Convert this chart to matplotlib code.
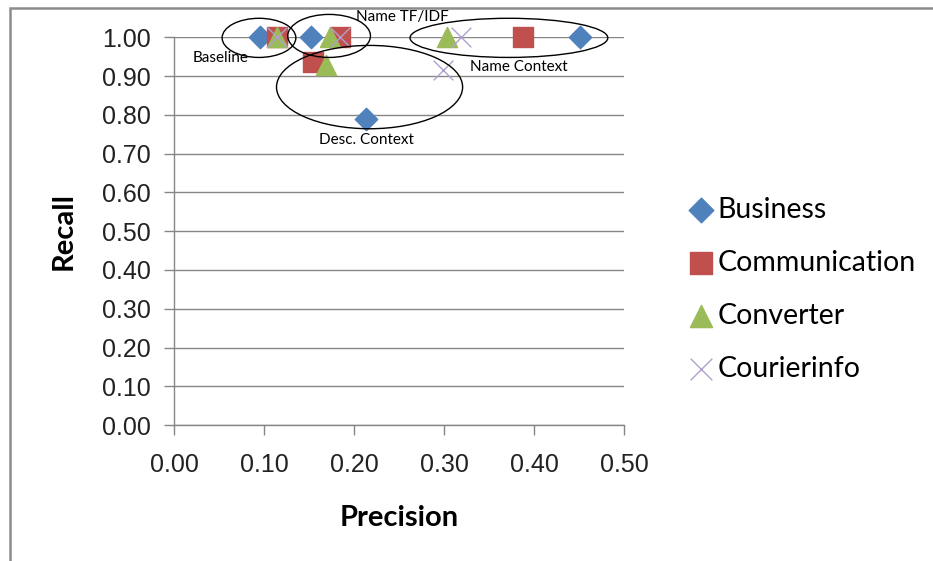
import matplotlib.pyplot as plt
from matplotlib.patches import Ellipse, Rectangle
from matplotlib.ticker import FormatStrFormatter

# ----------------------
# Data (precision, recall)
# ----------------------
business_p = [0.095, 0.152, 0.451, 0.213]
business_r = [1.00, 1.00, 1.00, 0.79]
communication_p = [0.114, 0.184, 0.388, 0.154]
communication_r = [1.00, 1.00, 1.00, 0.937]
converter_p = [0.114, 0.173, 0.303, 0.168]
converter_r = [1.00, 1.00, 1.00, 0.929]
courier_p = [0.114, 0.184, 0.319, 0.299]
courier_r = [1.00, 1.00, 1.00, 0.917]

# groups circled on the chart: label, centre, width, height, label position
groups = ["Baseline", "Name TF/IDF", "Name Context", "Desc. Context"]
group_centres = [(0.094, 0.999), (0.172, 1.004), (0.372, 0.999), (0.217, 0.872)]
group_sizes = [(0.082, 0.101), (0.092, 0.111), (0.220, 0.101), (0.207, 0.215)]
group_labels_at = [(0.051, 0.946), (0.254, 1.052), (0.383, 0.925), (0.213, 0.736)]

# ----------------------
# Figure
# ----------------------
fig = plt.figure(figsize=(9.33, 5.61), dpi=100)
ax = fig.add_axes([0.187, 0.2424, 0.4818, 0.6908])

# chart area border (left and top edge visible)
fig.patches.append(Rectangle((9.5 / 933, -0.05), 1.2, 1.05 - 8.5 / 561,
                             transform=fig.transFigure, fill=False,
                             edgecolor="#8c8c8c", linewidth=1.8))

ax.scatter(business_p, business_r, marker="D", s=130, color="#4F81BD",
           label="Business", zorder=3, clip_on=False)
ax.scatter(communication_p, communication_r, marker="s", s=200, color="#C0504D",
           label="Communication", zorder=3, clip_on=False)
ax.scatter(converter_p, converter_r, marker="^", s=210, color="#9BBB59",
           label="Converter", zorder=3, clip_on=False)
ax.scatter(courier_p, courier_r, marker="x", s=200, color="#B0A0CC",
           linewidths=1.0, label="Courierinfo", zorder=4, clip_on=False)

for name, c, sz, pos in zip(groups, group_centres, group_sizes, group_labels_at):
    ax.add_patch(Ellipse(c, sz[0], sz[1], fill=False, edgecolor="black",
                         linewidth=1.0, clip_on=False, zorder=5))
    ax.text(pos[0], pos[1], name, ha="center", va="center", fontsize=11,
            family="Lato", clip_on=False, zorder=6)

ax.set_xlim(0, 0.5)
ax.set_ylim(0, 1.0)
ax.set_xticks([0, 0.1, 0.2, 0.3, 0.4, 0.5])
ax.set_yticks([i / 10 for i in range(11)])
ax.xaxis.set_major_formatter(FormatStrFormatter("%.2f"))
ax.yaxis.set_major_formatter(FormatStrFormatter("%.2f"))
ax.grid(axis="y", color="#868686", linewidth=1.0)
ax.set_axisbelow(True)

for side in ["top", "right"]:
    ax.spines[side].set_visible(False)
for side in ["left", "bottom"]:
    ax.spines[side].set_color("#868686")
    ax.spines[side].set_linewidth(1.0)

ax.tick_params(colors="#868686", labelcolor="#222222", length=7, width=1.0,
               labelsize=18)
for lab in ax.get_xticklabels() + ax.get_yticklabels():
    lab.set_family("Liberation Sans")
ax.tick_params(axis="x", pad=13.5)
ax.tick_params(axis="y", pad=10)

ax.set_xlabel("Precision", fontsize=21, fontweight="bold", family="Lato",
              labelpad=20)
ax.set_ylabel("Recall", fontsize=21, fontweight="bold", family="Lato",
              labelpad=18)

ax.legend(loc="center left", bbox_to_anchor=(1.12, 0.35), frameon=False,
          prop={"family": "Lato", "size": 20.5}, labelspacing=0.95,
          handletextpad=0.2, handlelength=0.8, borderaxespad=0,
          markerscale=1.1)

fig.savefig("out.png", dpi=100)
